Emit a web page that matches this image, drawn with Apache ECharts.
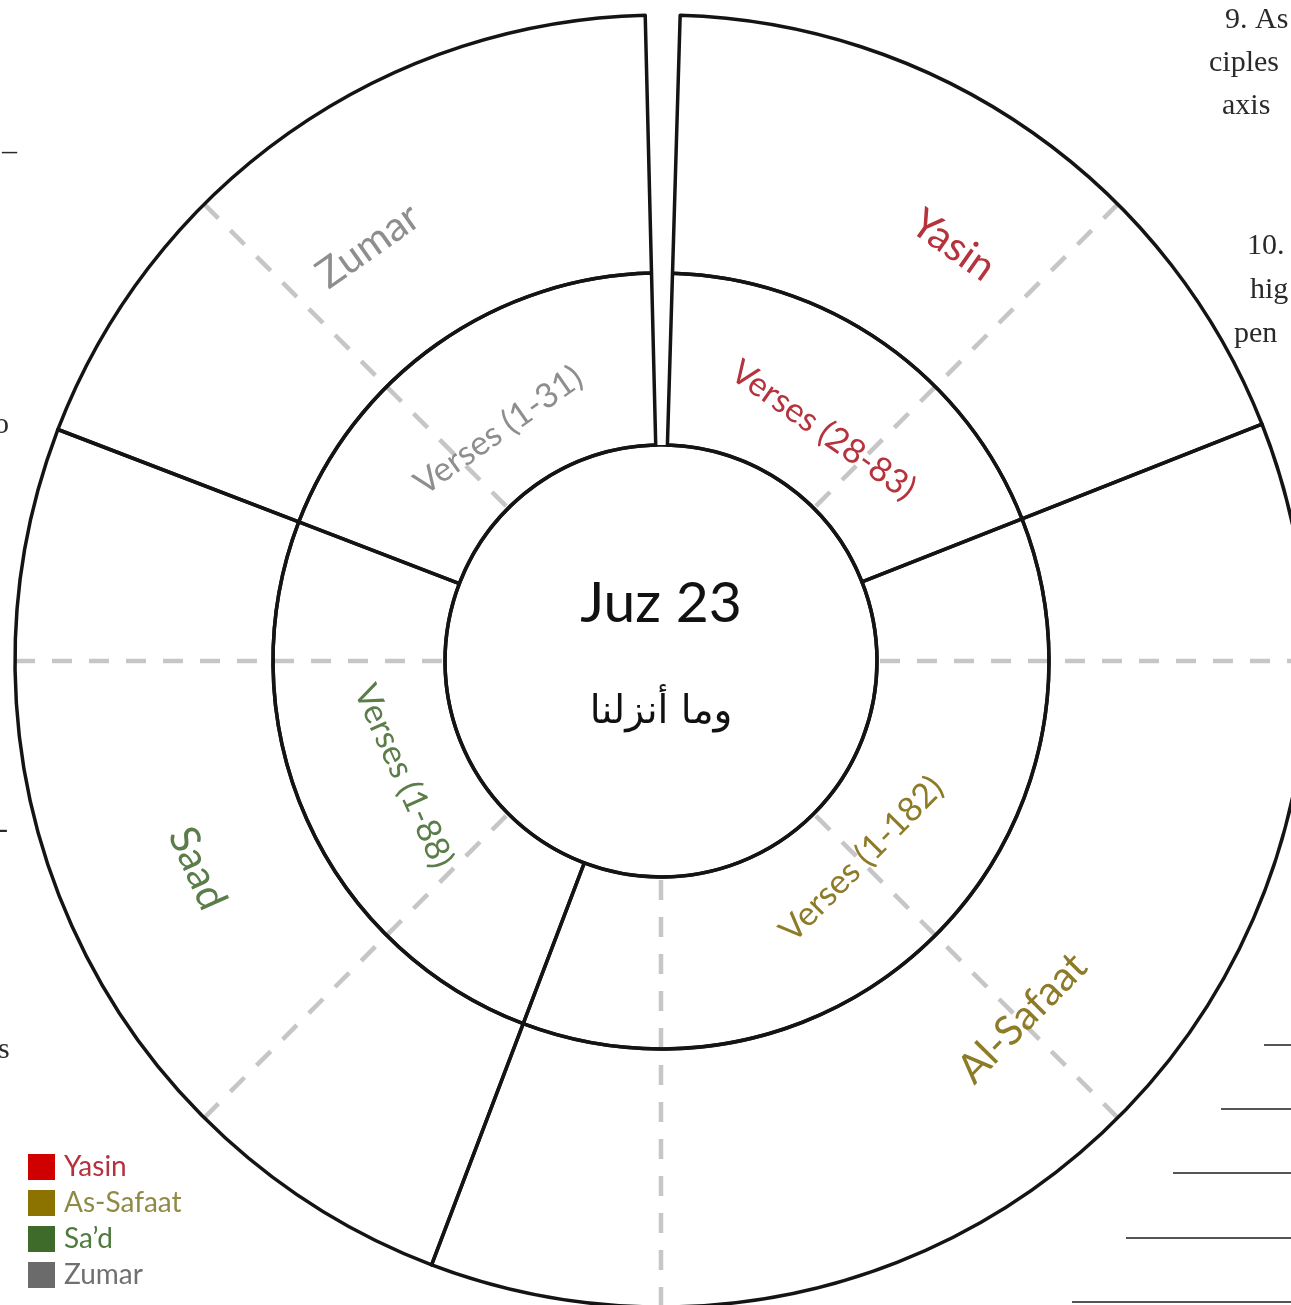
<!DOCTYPE html>
<html>
<head>
<meta charset="utf-8">
<script src="https://cdn.jsdelivr.net/npm/echarts@6/dist/echarts.min.js"></script>
<style>
html,body{margin:0;padding:0;background:#fff;}
#chart{width:1291px;height:1305px;}
</style>
</head>
<body>
<div id="chart"></div>
<script>
// ---- data ----
const sliceNames = ['Yasin', 'As-Safaat', 'Sa\u2019d', 'Zumar'];
const sliceValues = [66.8, 132.3, 90.2, 67.6];
const gapValue = 3.1;
const outerLabels = ['Yasin', 'Al-Safaat', 'Saad', 'Zumar'];
const verseLabels = ['Verses (28-83)', 'Verses (1-182)', 'Verses (1-88)', 'Verses (1-31)'];
const labelColors = ['#b5333c', '#8d7b28', '#5a7d4a', '#8e8e8e'];
const legendColors = ['#d00000', '#8c7300', '#3e6b29', '#6b6b6b'];
const legendTextColors = ['#b5323c', '#8f8a45', '#4e7a3e', '#707070'];
const juzTitle = 'Juz 23';
const juzArabic = 'وما أنزلنا';
const pageTextRight = ['9. As', 'ciples', 'axis', '10.', 'hig', 'pen'];
const pageTextLeft = ['\u2013', 'o', '-', 's'];

// ---- build ----
const CX = 661, CY = 661;
const FONT = 'Lato';

function ringData(labels, drawn) {
  const gap = {
    name: 'gap', value: gapValue,
    itemStyle: drawn ? { color: '#ffffff', borderWidth: 0 } : { color: 'rgba(0,0,0,0)', borderWidth: 0 },
    label: { show: false }
  };
  return [gap].concat(sliceNames.map((n, i) => ({
    name: n,
    value: sliceValues[i],
    label: labels ? { formatter: labels[i], color: labelColors[i] } : { show: false }
  })));
}

const ringStyle = { color: 'rgba(0,0,0,0)', borderColor: '#141414', borderWidth: 3.5 };
const noStyle = { color: 'rgba(0,0,0,0)', borderWidth: 0 };
const startAngle = 90 + (gapValue / 2 - 0.15);

const common = {
  type: 'pie', center: [CX, CY], startAngle: startAngle, clockwise: true,
  animation: false, emphasis: { disabled: true }, silent: true,
  labelLine: { show: false }, avoidLabelOverlap: false, minShowLabelAngle: 0
};

const series = [
  Object.assign({}, common, {
    name: 'center', radius: [0, 216], startAngle: 90,
    itemStyle: { color: '#ffffff', borderColor: '#141414', borderWidth: 3.5 },
    data: [{ name: juzTitle, value: 1 }],
    label: {
      show: true, position: 'center',
      formatter: '{a|' + juzTitle + '}\n{b|' + juzArabic + '}',
      rich: {
        a: { fontSize: 57, fontFamily: FONT, color: '#111', lineHeight: 104 },
        b: { fontSize: 39, fontFamily: 'DejaVu Sans', color: '#111', lineHeight: 114 }
      }
    }
  }),
  Object.assign({}, common, {
    name: 'inner', radius: [216, 388], itemStyle: ringStyle,
    label: { show: false }, data: ringData(null, true)
  }),
  Object.assign({}, common, {
    name: 'outer', radius: [388, 646], itemStyle: ringStyle,
    label: { show: false }, data: ringData(null, true)
  }),
  Object.assign({}, common, {
    name: 'innerLabels', radius: [216, 342], itemStyle: noStyle,
    label: { show: true, position: 'inside', rotate: 'tangential', fontSize: 34, fontFamily: FONT },
    data: ringData(verseLabels, false)
  }),
  Object.assign({}, common, {
    name: 'outerLabels', radius: [364, 646], itemStyle: noStyle,
    label: { show: true, position: 'inside', rotate: 'tangential', fontSize: 41, fontFamily: FONT },
    data: ringData(outerLabels, false)
  })
];

const rightY = [20, 63, 106, 246, 290, 334];
const rightX = [1225, 1209, 1222, 1247, 1250, 1234];
const leftY = [152, 425, 830, 1050];
const leftX = [2, -6, -2, -2];
const graphic = [];
pageTextRight.forEach((t, i) => graphic.push({
  type: 'text', x: rightX[i], y: rightY[i], silent: true,
  style: { text: t, fontSize: 30, fontFamily: 'Liberation Serif', fill: '#2a2a2a', verticalAlign: 'middle', align: 'left' }
}));
pageTextLeft.forEach((t, i) => graphic.push({
  type: 'text', x: leftX[i], y: leftY[i], silent: true,
  style: { text: t, fontSize: 30, fontFamily: 'Liberation Serif', fill: '#2a2a2a', verticalAlign: 'middle', align: 'left' }
}));
const ruleY = [1045, 1109, 1173, 1238, 1302];
const ruleX = [1264, 1221, 1173, 1126, 1072];
ruleY.forEach((y, i) => graphic.push({
  type: 'line', silent: true,
  shape: { x1: ruleX[i], y1: y, x2: 1291, y2: y },
  style: { stroke: '#555', lineWidth: 2 }
}));

const option = {
  backgroundColor: '#ffffff',
  animation: false,
  polar: { center: [CX, CY], radius: [216, 646] },
  angleAxis: {
    type: 'value', min: 0, max: 360, interval: 45, startAngle: 90, clockwise: true,
    axisLine: { show: false }, axisTick: { show: false }, axisLabel: { show: false },
    splitLine: { show: true, lineStyle: { color: '#c6c6c6', width: 4.5, type: [20, 17] } }
  },
  radiusAxis: { show: false, min: 0, max: 1 },
  legend: {
    orient: 'vertical', left: 23, top: 1146,
    itemWidth: 27, itemHeight: 26, itemGap: 4, icon: 'rect',
    selectedMode: false,
    itemStyle: { borderWidth: 0 },
    textStyle: { fontSize: 28, fontFamily: FONT, padding: [0, 0, 0, 4], lineHeight: 32 },
    data: sliceNames.map((n, i) => ({
      name: n,
      itemStyle: { color: legendColors[i], borderWidth: 0 },
      textStyle: { color: legendTextColors[i] }
    }))
  },
  graphic: graphic,
  series: series
};

const chart = echarts.init(document.getElementById('chart'), null, { renderer: 'canvas' });
chart.setOption(option);
</script>
</body>
</html>
